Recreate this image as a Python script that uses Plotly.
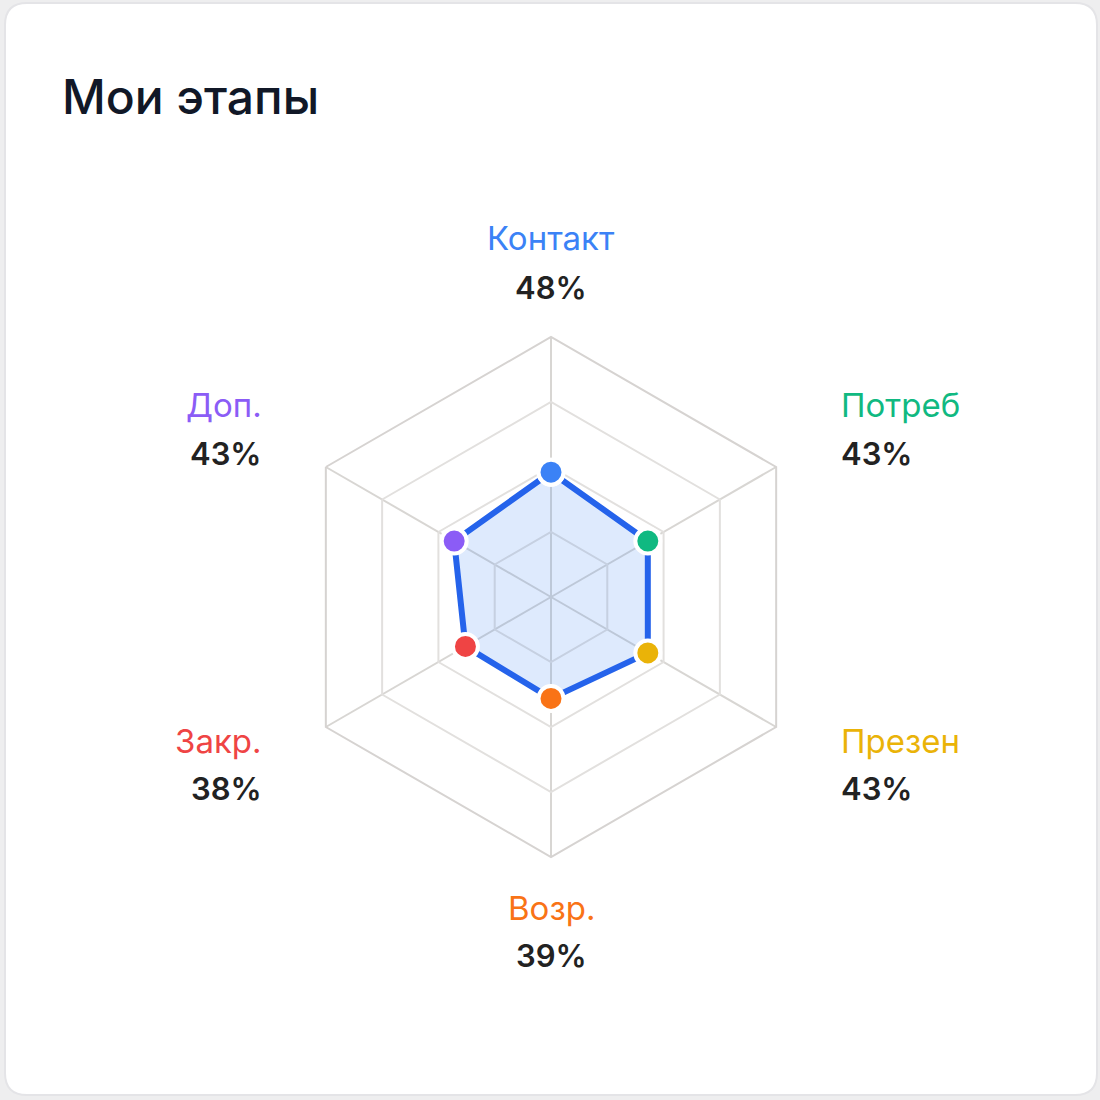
import plotly.graph_objects as go

# stage data
stages = ["Контакт", "Потреб", "Презен", "Возр.", "Закр.", "Доп."]
values = [48, 43, 43, 39, 38, 43]
stage_colors = ["#3b82f6", "#10b981", "#eab308", "#f97316", "#ef4444", "#8b5cf6"]
grid_ticks = [25, 50, 75, 100]

W = H = 1100


def px_x(x):
    return x / W


def px_y(y):
    return 1 - y / H


def rounded_rect(x0, y0, x1, y1, r):
    # path in paper coords, pixel input (top-left origin)
    a, b, c, d = px_x(x0), px_y(y0), px_x(x1), px_y(y1)
    rr = r / W
    return (f"M {a + rr},{b} L {c - rr},{b} Q {c},{b} {c},{b - rr} "
            f"L {c},{d + rr} Q {c},{d} {c - rr},{d} "
            f"L {a + rr},{d} Q {a},{d} {a},{d + rr} "
            f"L {a},{b - rr} Q {a},{b} {a + rr},{b} Z")


fig = go.Figure()

# closed polygon
r_closed = values + values[:1]
theta_closed = stages + stages[:1]
fig.add_trace(go.Scatterpolar(
    r=r_closed, theta=theta_closed,
    mode="lines+markers",
    fill="toself",
    fillcolor="rgba(59,130,246,0.17)",
    line=dict(color="#2563eb", width=6),
    marker=dict(size=25, color=stage_colors + stage_colors[:1],
                line=dict(color="white", width=4)),
    hoverinfo="skip",
    showlegend=False,
))

# center of the radar, pixel coords
cx, cy, rad = 551, 597, 260

fig.update_layout(
    width=W, height=H,
    margin=dict(l=0, r=0, t=0, b=0),
    paper_bgcolor="#eeeeef",
    font=dict(family="Inter, Roboto, sans-serif"),
    polar=dict(
        domain=dict(x=[px_x(cx - rad), px_x(cx + rad)],
                    y=[px_y(cy + rad), px_y(cy - rad)]),
        bgcolor="rgba(0,0,0,0)",
        gridshape="linear",
        radialaxis=dict(range=[0, 100], tickvals=grid_ticks, showticklabels=False,
                        showline=False, ticks="", gridcolor="#e2e0de", gridwidth=1.5),
        angularaxis=dict(rotation=90, direction="clockwise", showticklabels=False,
                         ticks="", gridcolor="#d8d6d3", gridwidth=1.5,
                         linecolor="#d6d3d1", linewidth=2),
    ),
)

# card background
fig.add_shape(type="path", path=rounded_rect(5, 3, 1097, 1095, 22),
              xref="paper", yref="paper", layer="below",
              fillcolor="white", line=dict(color="#e4e4e7", width=2))

fig.add_annotation(text="Мои этапы", x=px_x(60), y=px_y(96), xref="paper", yref="paper",
                   xanchor="left", yanchor="middle", showarrow=False,
                   font=dict(size=48, color="#111827", weight=500))

# stage labels around the radar: x, name y, value y, anchor
label_pos = [
    (551, 238, 287, "center"),
    (839, 405, 453, "left"),
    (839, 741, 788, "left"),
    (551, 908, 955, "center"),
    (264, 741, 788, "right"),
    (264, 405, 453, "right"),
]
for name, val, col, (lx, ny, vy, anchor) in zip(stages, values, stage_colors, label_pos):
    fig.add_annotation(text=name, x=px_x(lx), y=px_y(ny), xref="paper", yref="paper",
                       xanchor=anchor, yanchor="middle", showarrow=False,
                       font=dict(size=33, color=col))
    fig.add_annotation(text=f"{val}%", x=px_x(lx), y=px_y(vy), xref="paper", yref="paper",
                       xanchor=anchor, yanchor="middle", showarrow=False,
                       font=dict(size=31, color="#222222", weight=600))

fig.write_html("out.html", config={"displayModeBar": False},
               post_script="document.body.style.margin='0';")
